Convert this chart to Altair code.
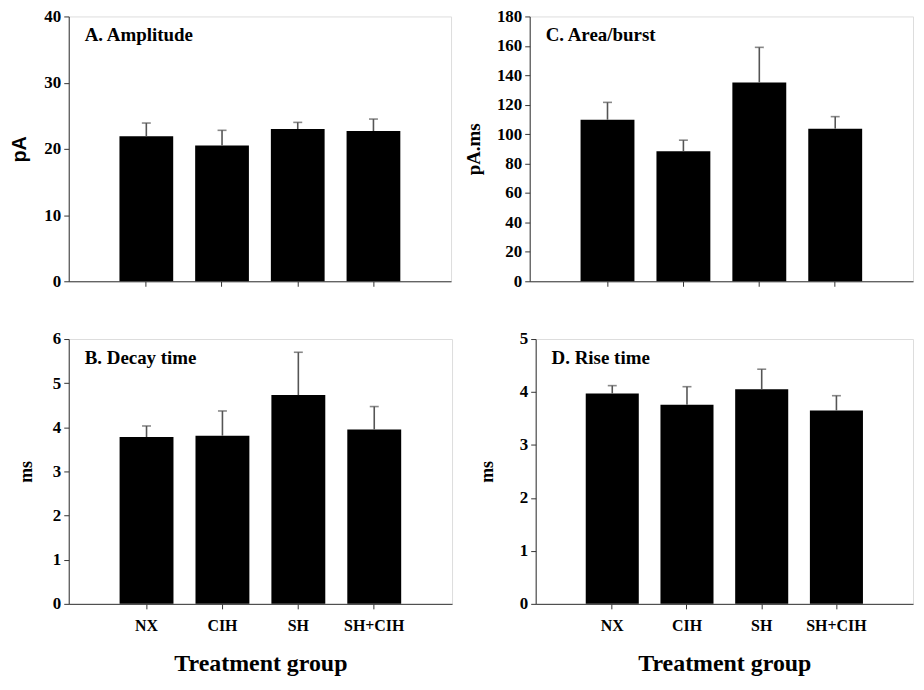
import altair as alt
import pandas as pd

groups = ["NX", "CIH", "SH", "SH+CIH"]

amp_mean = [21.9, 20.5, 23.0, 22.7]
amp_err = [2.0, 2.3, 1.0, 1.8]

area_mean = [109.8, 88.4, 135.1, 103.7]
area_err = [11.8, 7.5, 23.9, 8.2]

decay_mean = [3.78, 3.81, 4.73, 3.95]
decay_err = [0.25, 0.56, 0.97, 0.52]

rise_mean = [3.97, 3.76, 4.05, 3.65]
rise_err = [0.15, 0.34, 0.38, 0.28]

SERIF = "Liberation Serif"
SANS = "Liberation Sans"
H = 266


def panel(mean, err, ymax, step, label, ytitle, tfont, tsize, title_x, bottom, width):
    df = pd.DataFrame({
        "group": groups,
        "mean": mean,
        "upper": [m + e for m, e in zip(mean, err)],
    })
    xscale = alt.Scale(paddingInner=0.29, paddingOuter=0.67)
    if bottom:
        xaxis = alt.Axis(labelAngle=0, labelFont=SERIF, labelFontWeight="bold",
                         labelFontSize=16, labelColor="black", labelPadding=9,
                         title="Treatment group", titleFont=SERIF, titleFontSize=24,
                         titleFontWeight="bold", titleColor="black", titlePadding=18,
                         tickColor="#333", domainColor="#333", tickSize=5)
    else:
        xaxis = alt.Axis(labels=False, title=None, tickColor="#333",
                         domainColor="#333", tickSize=5)
    x = alt.X("group:N", sort=groups, scale=xscale, axis=xaxis)
    vals = list(range(0, ymax + 1, step))
    yaxis = alt.Axis(values=vals, grid=False, labelFont=SERIF, labelFontWeight="bold",
                     labelFontSize=17, labelColor="black", labelPadding=3,
                     labelOverlap=False,
                     tickColor="#333", domainColor="#333", tickSize=5,
                     title=ytitle, titleFont=tfont, titleFontSize=tsize,
                     titleFontWeight="bold", titleColor="black",
                     titleX=title_x, titleY=H / 2, titleBaseline="middle",
                     titleAlign="center", titleAngle=270)
    yscale = alt.Scale(domain=[0, ymax], nice=False)
    y = alt.Y("mean:Q", scale=yscale, axis=yaxis)
    base = alt.Chart(df)
    bars = base.mark_bar(color="black").encode(x=x, y=y)
    rule = base.mark_rule(color="#555", strokeWidth=1.6).encode(
        x=x, y=y, y2="upper:Q")
    cap = base.mark_tick(color="#555", thickness=1.6, size=9, orient="horizontal").encode(
        x=x, y=alt.Y("upper:Q", scale=yscale, axis=yaxis))
    txt = alt.Chart(pd.DataFrame({"t": [label]})).mark_text(
        align="left", baseline="middle", font=SERIF, fontSize=19,
        fontWeight="bold", color="black").encode(
        text="t:N", x=alt.value(16), y=alt.value(19))
    return alt.layer(bars, rule, cap, txt).properties(width=width, height=H)


A = panel(amp_mean, amp_err, 40, 10, "A. Amplitude", "pA", SANS, 20, -49, False, 384)
C = panel(area_mean, area_err, 180, 20, "C. Area/burst", "pA.ms", SERIF, 19, -56, False, 385)
B = panel(decay_mean, decay_err, 6, 1, "B. Decay time", "ms", SERIF, 18, -42, True, 385)
D = panel(rise_mean, rise_err, 5, 1, "D. Rise time", "ms", SERIF, 18, -48, True, 379)

top = alt.hconcat(A, C, spacing=12)
bot = alt.hconcat(B, D, spacing=25)
chart = (
    alt.vconcat(top, bot, spacing=39)
    .properties(padding={"left": 1, "top": -3, "right": 2, "bottom": 2})
    .configure_view(stroke="#333", strokeWidth=1)
    .configure_axis(labelOverlap=False)
    .configure(background="white")
)

chart.save("out.html", embed_options={"renderer": "svg", "actions": False})
